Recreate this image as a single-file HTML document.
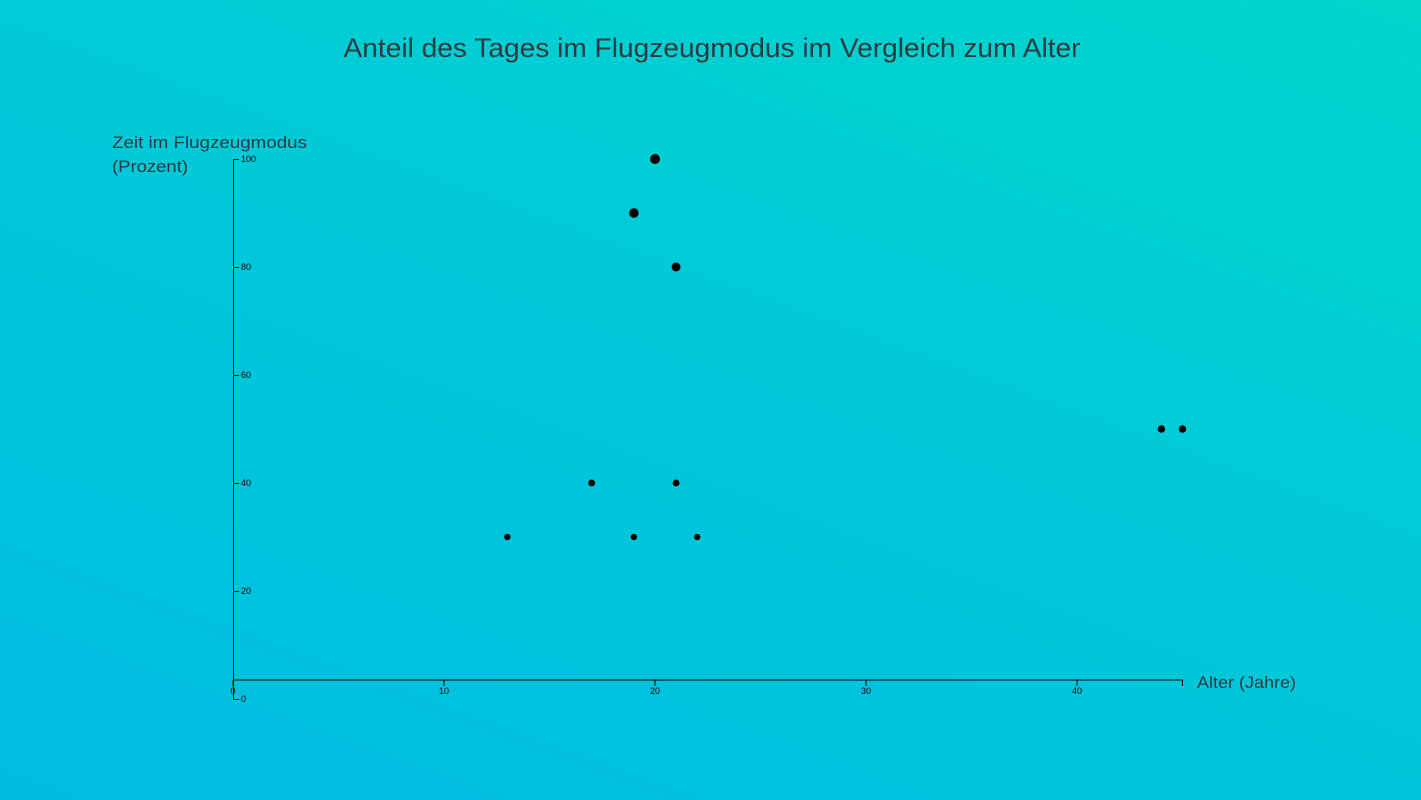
<!DOCTYPE html>
<html><head><meta charset="utf-8"><style>
html,body{margin:0;padding:0;width:1421px;height:800px;overflow:hidden}
body{background:linear-gradient(200deg,#00d6cc 0%,#00c8d9 50%,#00bce2 100%);font-family:"Liberation Sans",sans-serif}
svg{position:absolute;left:0;top:0}
</style></head><body>
<svg width="1421" height="800">
<text x="712" y="57" text-anchor="middle" font-size="27" textLength="737" lengthAdjust="spacingAndGlyphs" fill="#2d3a40">Anteil des Tages im Flugzeugmodus im Vergleich zum Alter</text>
<text x="112" y="148" font-size="17" textLength="195" lengthAdjust="spacingAndGlyphs" fill="#2d3a40">Zeit im Flugzeugmodus</text>
<text x="112" y="172" font-size="17" textLength="76" lengthAdjust="spacingAndGlyphs" fill="#2d3a40">(Prozent)</text>
<text x="1197" y="688" font-size="17" textLength="99" lengthAdjust="spacingAndGlyphs" fill="#2d3a40">Alter (Jahre)</text>
<g id="xaxis"></g>
<g id="yaxis"></g>
<g id="points"></g>
</svg>
<script>
const ages=[20,19,21,44,45,17,21,13,19,22];
const percents=[100,90,80,50,50,40,40,30,30,30];
const xTicks=[0,10,20,30,40];
const yTicks=[0,20,40,60,80,100];
const NS="http://www.w3.org/2000/svg";
const X=v=>233+v*21.1;
const Y=v=>699-v*5.4;
function mk(t,a,p){const e=document.createElementNS(NS,t);for(const k in a)e.setAttribute(k,a[k]);p.appendChild(e);return e;}
const xa=document.getElementById('xaxis'),ya=document.getElementById('yaxis'),pts=document.getElementById('points');
mk('line',{x1:X(0),x2:X(45),y1:680,y2:680,stroke:'#000','stroke-width':1},xa);
mk('line',{x1:X(45),x2:X(45),y1:680,y2:686,stroke:'#000','stroke-width':1},xa);
xTicks.forEach(v=>{
 const l=mk('line',{x1:X(v),x2:X(v),y1:680,y2:686,stroke:'#000'},xa);
 
 
 const t=mk('text',{x:X(v),y:694,'text-anchor':'middle','font-size':9,fill:'#000'},xa);
 t.textContent=v;
 
 
});
mk('line',{x1:233.5,x2:233.5,y1:Y(100),y2:Y(0),stroke:'#000'},ya);
yTicks.forEach(v=>{
 const l=mk('line',{x1:233,x2:239,y1:Y(v)+0.5,y2:Y(v)+0.5,stroke:'#000'},ya);
 
 
 const t=mk('text',{x:241,y:Y(v)+3,'font-size':9,fill:'#000'},ya);
 t.textContent=v;
 
 
});
ages.forEach((a,i)=>{
 const c=mk('circle',{cx:X(a),cy:Y(percents[i]),r:2.4+percents[i]*0.026,fill:'#000'},pts);
 
 
});
</script>
</body></html>
